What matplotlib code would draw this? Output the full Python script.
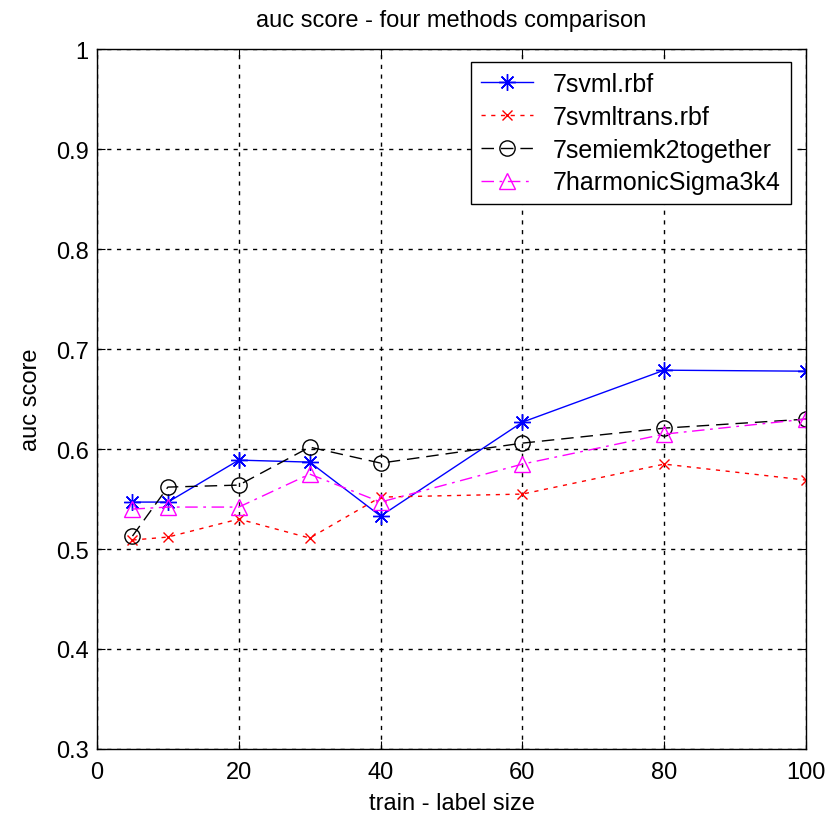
import matplotlib
matplotlib.use("Agg")
import matplotlib.pyplot as plt

plt.rcParams["font.family"] = ["Liberation Sans", "DejaVu Sans"]

x = [5, 10, 20, 30, 40, 60, 80, 100]
svml_rbf = [0.547, 0.547, 0.589, 0.587, 0.533, 0.627, 0.679, 0.678]
svmltrans_rbf = [0.509, 0.512, 0.530, 0.511, 0.552, 0.555, 0.585, 0.569]
semiemk2 = [0.513, 0.562, 0.564, 0.602, 0.586, 0.606, 0.621, 0.630]
harmonic = [0.540, 0.542, 0.542, 0.575, 0.547, 0.585, 0.615, 0.630]
labels = ["7svml.rbf", "7svmltrans.rbf", "7semiemk2together", "7harmonicSigma3k4"]

fig = plt.figure(figsize=(8.4, 8.2), dpi=100)
ax = fig.add_axes([0.1155, 0.0855, 0.844, 0.853])

ax.plot(x, svml_rbf, color="blue", linestyle="-", marker=(8, 2, 0), markersize=12,
        markeredgewidth=1, linewidth=1, label=labels[0])
ax.plot(x, svmltrans_rbf, color="red", linestyle=(0, (3, 4)), marker="x",
        markersize=7, linewidth=1, label=labels[1])
ax.plot(x, semiemk2, color="black", linestyle=(0, (9, 5)), marker="o",
        markersize=11, markerfacecolor="none", linewidth=1, label=labels[2])
ax.plot(x, harmonic, color="magenta", linestyle=(0, (9, 4, 2, 4)), marker="^",
        markersize=12, markerfacecolor="none", linewidth=1, label=labels[3])

ax.set_xlim(0, 100)
ax.set_ylim(0.3, 1.0)
ax.set_xticks([0, 20, 40, 60, 80, 100])
ax.set_yticks([0.3, 0.4, 0.5, 0.6, 0.7, 0.8, 0.9, 1.0])
ax.set_yticklabels(["0.3", "0.4", "0.5", "0.6", "0.7", "0.8", "0.9", "1"])
ax.grid(True, color="black", linestyle=(0, (3, 4)), linewidth=1)
ax.tick_params(direction="in", length=6, top=True, right=True, labelsize=17)
ax.tick_params(axis="x", pad=9)
ax.tick_params(axis="y", pad=6)
for s in ax.spines.values():
    s.set_linewidth(1)

ax.set_title("auc score - four methods comparison", fontsize=17, pad=17)
ax.set_xlabel("train - label size", fontsize=17, labelpad=6)
ax.set_ylabel("auc score", fontsize=17, labelpad=10)

leg = ax.legend(loc="upper right", bbox_to_anchor=(0.979, 0.982), fontsize=18,
                fancybox=False, edgecolor="black", framealpha=1,
                borderpad=0.4, labelspacing=0.35, handlelength=2.1,
                handletextpad=0.8, borderaxespad=0)
leg.get_frame().set_linewidth(1)

fig.savefig("out.png", dpi=100)
